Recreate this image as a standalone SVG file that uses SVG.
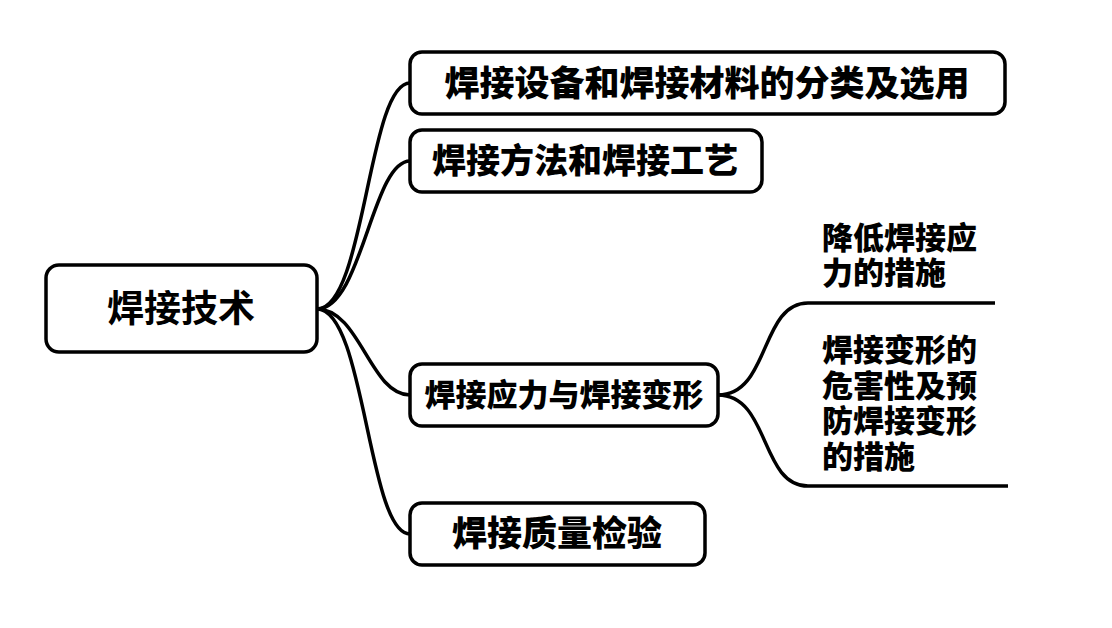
<svg xmlns="http://www.w3.org/2000/svg" width="1112" height="628" viewBox="0 0 1112 628">
<style>
.box{fill:#fff;stroke:#000;stroke-width:3.5}
.t{font-family:"Liberation Sans","Noto Sans CJK SC",sans-serif;font-weight:900;fill:#000}
.c{fill:none;stroke:#000;stroke-width:3.5}
</style>
<rect width="1112" height="628" fill="#fff"/>
<g id="connectors">
<path class="c" d="M317,309 C365,309 368,83 410,83"/>
<path class="c" d="M317,309 C362,309 372,161 410,161"/>
<path class="c" d="M317,309 C360,309 370,395 410,395"/>
<path class="c" d="M317,309 C365,309 368,534 410,534"/>
<path class="c" d="M718,395 C770,395 760,303 808,303 L995,303"/>
<path class="c" d="M718,395 C770,395 760,486 808,486 L1008,486"/>
</g>
<g id="root">
<rect class="box" x="46" y="265" width="271" height="87" rx="13"/>
<text class="t" x="181" y="322" font-size="37" text-anchor="middle" style="font-weight:700">焊接技术</text>
</g>
<g id="n1">
<rect class="box" x="410" y="52" width="595" height="62" rx="12"/>
<text class="t" x="707" y="96" font-size="35" text-anchor="middle">焊接设备和焊接材料的分类及选用</text>
</g>
<g id="n2">
<rect class="box" x="410" y="130" width="352" height="62" rx="12"/>
<text class="t" x="585" y="173" font-size="34" text-anchor="middle">焊接方法和焊接工艺</text>
</g>
<g id="n3">
<rect class="box" x="410" y="364" width="308" height="62" rx="12"/>
<text class="t" x="564" y="406" font-size="31" text-anchor="middle">焊接应力与焊接变形</text>
</g>
<g id="n4">
<rect class="box" x="410" y="503" width="295" height="62" rx="12"/>
<text class="t" x="557" y="546" font-size="35" text-anchor="middle">焊接质量检验</text>
</g>
<g id="s1">
<text class="t" x="822" y="249" font-size="31">降低焊接应</text>
<text class="t" x="822" y="284" font-size="31">力的措施</text>
</g>
<g id="s2">
<text class="t" x="822" y="361" font-size="31">焊接变形的</text>
<text class="t" x="822" y="397" font-size="31">危害性及预</text>
<text class="t" x="822" y="432" font-size="31">防焊接变形</text>
<text class="t" x="822" y="468" font-size="31">的措施</text>
</g>
</svg>
